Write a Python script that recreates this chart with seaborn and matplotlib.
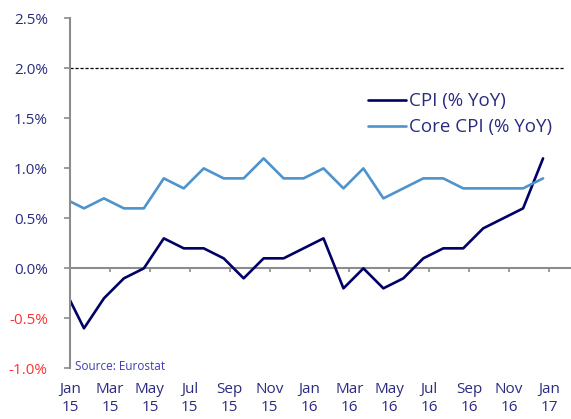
import numpy as np
import pandas as pd
import matplotlib.pyplot as plt
import seaborn as sns

# Monthly data, Dec 14 .. Dec 16 (% YoY)
months = ['Dec 14', 'Jan 15', 'Feb 15', 'Mar 15', 'Apr 15', 'May 15', 'Jun 15',
          'Jul 15', 'Aug 15', 'Sep 15', 'Oct 15', 'Nov 15', 'Dec 15',
          'Jan 16', 'Feb 16', 'Mar 16', 'Apr 16', 'May 16', 'Jun 16',
          'Jul 16', 'Aug 16', 'Sep 16', 'Oct 16', 'Nov 16', 'Dec 16']
cpi = [-0.2, -0.6, -0.3, -0.1, 0.0, 0.3, 0.2, 0.2, 0.1, -0.1, 0.1, 0.1, 0.2,
       0.3, -0.2, 0.0, -0.2, -0.1, 0.1, 0.2, 0.2, 0.4, 0.5, 0.6, 1.1]
core_cpi = [0.7, 0.6, 0.7, 0.6, 0.6, 0.9, 0.8, 1.0, 0.9, 0.9, 1.1, 0.9, 0.9,
            1.0, 0.8, 1.0, 0.7, 0.8, 0.9, 0.9, 0.8, 0.8, 0.8, 0.8, 0.9]
tick_labels = ['Jan\n15', 'Mar\n15', 'May\n15', 'Jul\n15', 'Sep\n15', 'Nov\n15',
               'Jan\n16', 'Mar\n16', 'May\n16', 'Jul\n16', 'Sep\n16', 'Nov\n16',
               'Jan\n17']
y_ticks = [-1.0, -0.5, 0.0, 0.5, 1.0, 1.5, 2.0, 2.5]
target = 2.0

x = np.arange(len(months))
df = pd.DataFrame({
    'x': np.concatenate([x, x]),
    'value': cpi + core_cpi,
    'series': ['CPI (% YoY)'] * len(x) + ['Core CPI (% YoY)'] * len(x),
})

sns.set_style('white')
plt.rcParams['font.family'] = ['Open Sans', 'DejaVu Sans']

navy = '#000066'
light = '#4F93CC'
label_col = '#2B2B80'
grey = '#8C8C8C'

fig = plt.figure(figsize=(5.71, 4.19), dpi=100)
ax = fig.add_axes([0.1226, 0.121, 0.8774, 0.835])

sns.lineplot(data=df, x='x', y='value', hue='series',
             palette={'CPI (% YoY)': navy, 'Core CPI (% YoY)': light},
             linewidth=1.9, ax=ax, legend=True)

ax.set_xlim(0.3, 25.4)
ax.set_ylim(-1.0, 2.5)

# target line
ax.axhline(target, xmin=0, xmax=0.986, color='black', linestyle=(0, (2.5, 1.5)),
           linewidth=0.9, zorder=1)
# zero line
ax.axhline(0, color=grey, linewidth=1.5, zorder=1)

# x labels at the bottom, tick marks on the zero line
xt = [0.3 + 2 * k for k in range(len(tick_labels))]
ax.set_xticks(xt)
ax.set_xticklabels(tick_labels, color=label_col, fontsize=11, linespacing=1.3)
ax.tick_params(axis='x', length=0, pad=10)
sec = ax.secondary_xaxis(0, transform=ax.transData)
sec.set_xticks(xt)
sec.set_xticklabels([])
sec.tick_params(axis='x', direction='out', length=3, width=1.2, color=grey)
sec.spines['bottom'].set_visible(False)

ax.set_yticks(y_ticks)
ax.set_yticklabels([f'{v:.1f}%' for v in y_ticks], fontsize=11)
for lab, v in zip(ax.get_yticklabels(), y_ticks):
    lab.set_color('#FF3333' if v < 0 else label_col)
ax.tick_params(axis='y', left=True, direction='out', length=4, width=1.2,
               color=grey, pad=12)

for s in ['top', 'right', 'bottom']:
    ax.spines[s].set_visible(False)
ax.spines['left'].set_color(grey)
ax.spines['left'].set_linewidth(1.5)

ax.set_xlabel('')
ax.set_ylabel('')

leg = ax.legend(loc='upper left', bbox_to_anchor=(0.58, 0.81), frameon=False,
                fontsize=13.5, handlelength=2.0, handletextpad=0.2,
                labelspacing=0.42, borderaxespad=0)
for t in leg.get_texts():
    t.set_color(label_col)

ax.text(0.01, 0.004, 'Source: Eurostat', transform=ax.transAxes,
        fontsize=8.5, color='#3F3FAF', va='center', ha='left')

fig.savefig('out.png', dpi=100)
